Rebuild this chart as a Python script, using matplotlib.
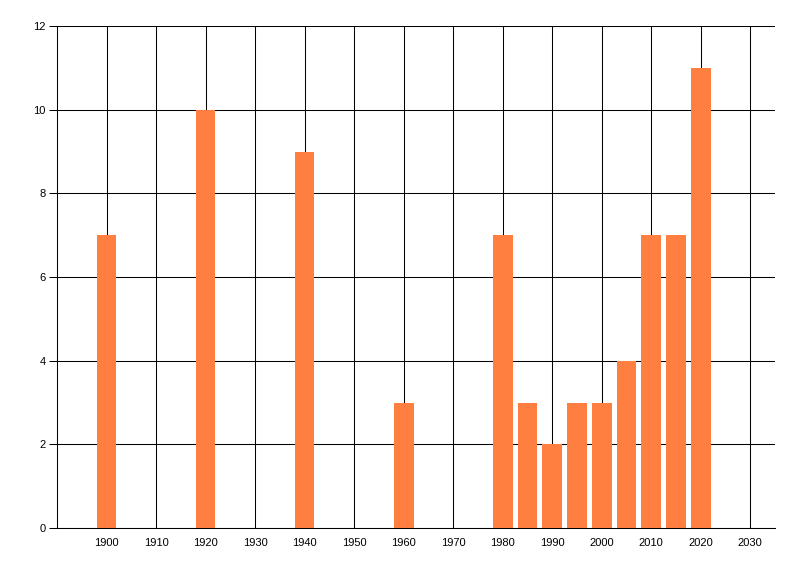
import matplotlib
matplotlib.use("Agg")
import matplotlib.pyplot as plt

years = [1900, 1920, 1940, 1960, 1980, 1985, 1990, 1995, 2000, 2005, 2010, 2015, 2020]
counts = [7, 10, 9, 3, 7, 3, 2, 3, 3, 4, 7, 7, 11]
xticks = list(range(1900, 2031, 10))
yticks = [0, 2, 4, 6, 8, 10, 12]

plt.rcParams['font.family'] = ['Liberation Sans', 'DejaVu Sans']
fig = plt.figure(figsize=(8, 5.76), dpi=100)
ax = fig.add_axes([57/800, 48/576, 718/800, 502/576])

ax.bar(years, counts, width=4, color='#FF7F40', zorder=3)
ax.set_xlim(1890, 2035)
ax.set_ylim(0, 12)
ax.set_xticks(xticks)
ax.set_yticks(yticks)
ax.grid(True, color='black', linewidth=0.75, zorder=0)
ax.set_axisbelow(True)
for s in ['top', 'right']:
    ax.spines[s].set_visible(False)
for s in ['left', 'bottom']:
    ax.spines[s].set_linewidth(0.75)
ax.tick_params(axis='x', length=0, pad=7, labelsize=8)
ax.tick_params(axis='y', length=6, width=0.75, pad=2, labelsize=8)

fig.savefig('out.png', dpi=100)
